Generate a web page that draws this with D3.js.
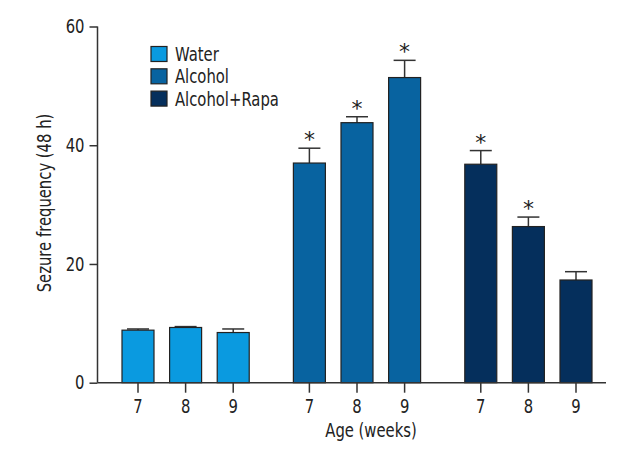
<!DOCTYPE html>
<html><head><meta charset="utf-8">
<script src="https://cdn.jsdelivr.net/npm/d3@7"></script>
<style>
body{margin:0;background:#fff;}
text{font-family:"DejaVu Sans",sans-serif;fill:#222;}
</style></head>
<body><svg id="c" width="640" height="460"></svg>
<script>
const groups = ["Water","Alcohol","Alcohol+Rapa"];
const weeks = ["7","8","9"];
const colors = ["#0a9ae0","#0863a0","#052f5c"];
const waterVals = [8.85, 9.3, 8.45];
const waterErr = [9.05, 9.45, 9.05];
const alcoholVals = [37.0, 43.8, 51.4];
const alcoholErr = [39.5, 44.8, 54.3];
const rapaVals = [36.8, 26.3, 17.3];
const rapaErr = [39.1, 27.9, 18.7];
const stars = [[false,false,false],[true,true,true],[true,true,false]];
const yTicks = [0,20,40,60];
const slotPos = [0,1,2,3.6,4.6,5.6,7.2,8.2,9.2];

const SX = 0.78, FS = 19;
const data = [];
[waterVals, alcoholVals, rapaVals].forEach((vals,g)=>{
  const errs=[waterErr,alcoholErr,rapaErr][g];
  vals.forEach((v,i)=>data.push({g, week:weeks[i], v, e:errs[i], star:stars[g][i], pos:slotPos[g*3+i]}));
});

const svg = d3.select("#c");
const x = d3.scaleLinear().domain([0,9.2]).range([138,576]);
const y = d3.scaleLinear().domain([0,60]).range([382.7,26.5]);
const bw = 32;

// narrow text helper
function ntext(parent, tx, ty, str, anchor, rot){
  return parent.append("text")
    .attr("transform",`translate(${tx},${ty})${rot?` rotate(${rot})`:""} scale(${SX},1)`)
    .attr("text-anchor",anchor||"start").attr("font-size",FS).text(str);
}

// y axis
const ya = svg.append("g").attr("transform","translate(97.5,0)")
  .call(d3.axisLeft(y).tickValues(yTicks).tickSize(8).tickPadding(5));
ya.select(".domain").attr("stroke","#333").attr("stroke-width",1.5).attr("d","M0,"+y(60)+"V"+y(0));
ya.selectAll(".tick line").attr("stroke","#333").attr("stroke-width",1.5);
ya.selectAll(".tick text").attr("font-size",FS).attr("font-family",null).attr("fill","#222")
  .attr("x",-13/SX).attr("transform",`scale(${SX},1)`);

// bars
const bars = svg.append("g");
bars.selectAll("line.err").data(data).join("line").attr("class","err")
  .attr("x1",d=>x(d.pos)).attr("x2",d=>x(d.pos)).attr("y1",d=>y(d.v)).attr("y2",d=>y(d.e))
  .attr("stroke","#333").attr("stroke-width",1.5);
bars.selectAll("line.cap").data(data).join("line").attr("class","cap")
  .attr("x1",d=>x(d.pos)-11).attr("x2",d=>x(d.pos)+11).attr("y1",d=>y(d.e)).attr("y2",d=>y(d.e))
  .attr("stroke","#333").attr("stroke-width",1.5);
bars.selectAll("rect").data(data).join("rect")
  .attr("x",d=>x(d.pos)-bw/2).attr("width",bw)
  .attr("y",d=>y(d.v)).attr("height",d=>y(0)-y(d.v))
  .attr("fill",d=>colors[d.g]).attr("stroke","#222").attr("stroke-width",1.2);
bars.selectAll("text.star").data(data.filter(d=>d.star)).join("text").attr("class","star")
  .attr("x",d=>x(d.pos)).attr("y",d=>y(d.e)-1).attr("text-anchor","middle")
  .attr("font-size",22).text("*");

// x axis
const xa = svg.append("g").attr("transform","translate(0,382.7)");
xa.append("line").attr("x1",97.5).attr("x2",606).attr("stroke","#333").attr("stroke-width",1.5);
const xt = xa.selectAll("g.t").data(data).join("g").attr("transform",d=>`translate(${x(d.pos)},0)`);
xt.append("line").attr("y2",10).attr("stroke","#333").attr("stroke-width",1.5);
xt.each(function(d){ ntext(d3.select(this),0,30.5,d.week,"middle"); });

ntext(svg,371,436.5,"Age (weeks)","middle");
ntext(svg,51,203,"Sezure frequency (48 h)","middle",-90);

// legend
const lg = svg.append("g").attr("transform","translate(151,46.5)");
groups.forEach((g,i)=>{
  lg.append("rect").attr("x",0).attr("y",i*22.3).attr("width",16).attr("height",15)
    .attr("fill",colors[i]).attr("stroke","#222").attr("stroke-width",1.2);
  ntext(lg,24,i*22.3+14.5,g,"start");
});
</script></body></html>
